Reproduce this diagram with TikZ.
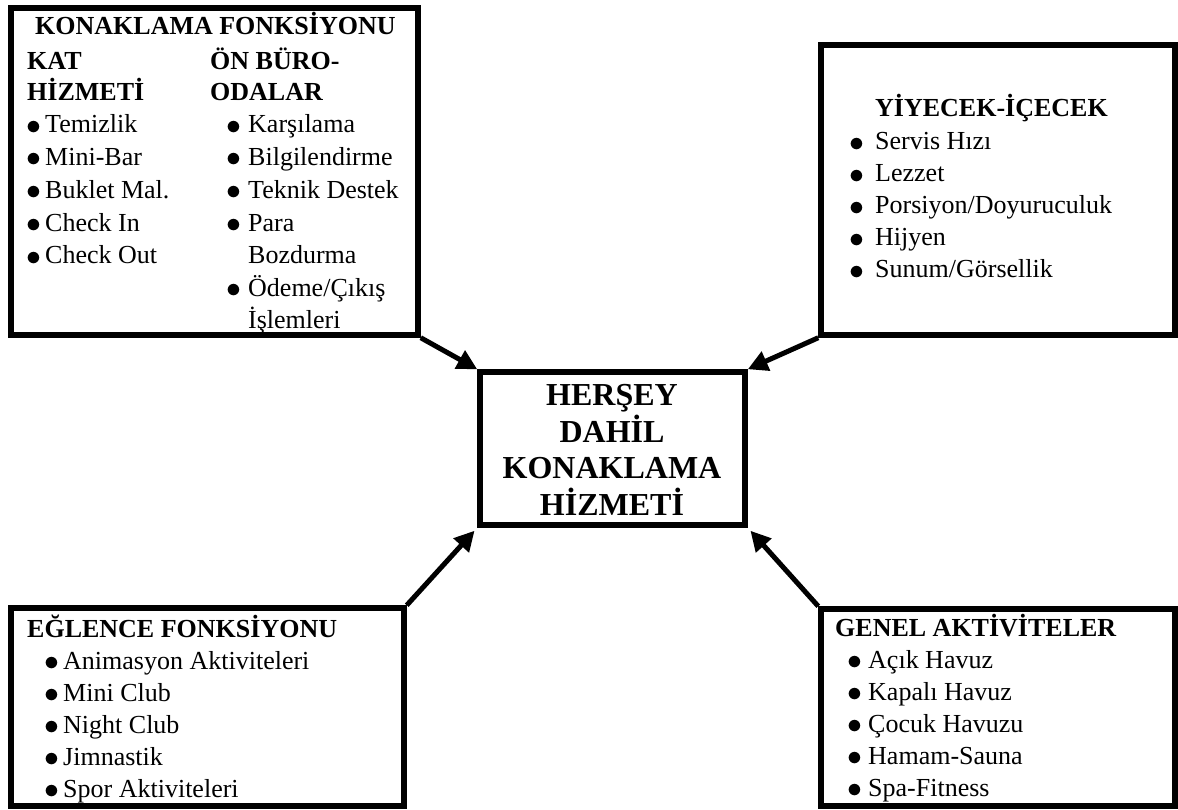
\documentclass[tikz,border=0pt]{standalone}
\usepackage{fontspec}
\setmainfont{Liberation Serif}
\usetikzlibrary{arrows.meta}
\newcommand{\bul}{\raisebox{-1.2pt}{\scalebox{1.2}{$\bullet$}}}
\begin{document}
\begin{tikzpicture}[x=1pt,y=-1pt,
  box/.style={draw=black,line width=5.5pt,rectangle,inner sep=0pt},
  txt/.style={inner sep=0pt,anchor=base west,font=\fontsize{26}{32}\selectfont},
  hd/.style={inner sep=0pt,anchor=base west,font=\fontsize{26}{32}\selectfont\bfseries},
  ctr/.style={inner sep=0pt,anchor=base,font=\fontsize{32}{37}\selectfont\bfseries},
  arr/.style={line width=5pt,-{Triangle[length=20pt,width=20pt]}}]
\useasboundingbox (0,0) rectangle (1178,810);
% boxes
\node[box,minimum width=407pt,minimum height=327pt] (tl) at (214.5,171.5) {};
\node[box,minimum width=354pt,minimum height=290pt] (tr) at (998,190) {};
\node[box,minimum width=265pt,minimum height=153pt] (c) at (612.5,448.5) {};
\node[box,minimum width=393pt,minimum height=198pt] (bl) at (207.5,707) {};
\node[box,minimum width=354pt,minimum height=197pt] (br) at (998,707.5) {};
% arrows
\draw[arr] (tl.south east) -- (c.north west);
\draw[arr] (tr.south west) -- (c.north east);
\draw[arr,shorten >=4pt] (bl.north east) -- (c.south west);
\draw[arr,shorten >=4pt] (br.north west) -- (c.south east);
% center text
\node[ctr] (c1) at (612,405) {HERŞEY};
\node[ctr] (c2) at (612,442) {DAHİL};
\node[ctr] (c3) at (612,478) {KONAKLAMA};
\node[ctr] (c4) at (612,515) {HİZMETİ};
% top-left box
\node[hd] (tlh) at (35,35) {KONAKLAMA FONKSİYONU};
\node[hd] (tlk1) at (27,70) {KAT};
\node[hd] (tlk2) at (27,101) {HİZMETİ};
\node[hd] (tlo1) at (210,70) {ÖN BÜRO-};
\node[hd] (tlo2) at (210,101) {ODALAR};
\foreach \t [count=\i] in {Temizlik,Mini-Bar,Buklet Mal.,Check In,Check Out}
  \node[txt] (tla\i) at (26,{133+32.75*(\i-1)}) {\makebox[19pt][l]{\bul}\t};
\foreach \t [count=\i] in {Karşılama,Bilgilendirme,Teknik Destek,Para}
  \node[txt] (tlb\i) at (226,{133+32.75*(\i-1)}) {\makebox[22pt][l]{\bul}\t};
\node[txt] (tlb5) at (248,264) {Bozdurma};
\node[txt] (tlb6) at (226,296.75) {\makebox[22pt][l]{\bul}Ödeme/Çıkış};
\node[txt] (tlb7) at (248,329) {İşlemleri};
% top-right box
\node[hd] (trh) at (875,117) {YİYECEK-İÇECEK};
\foreach \t [count=\i] in {Servis Hızı,Lezzet,Porsiyon/Doyuruculuk,Hijyen,Sunum/Görsellik}
  \node[txt] (tra\i) at (849,{150+32*(\i-1)}) {\makebox[26pt][l]{\bul}\t};
% bottom-left box
\node[hd] (blh) at (27,637) {EĞLENCE FONKSİYONU};
\foreach \t [count=\i] in {Animasyon Aktiviteleri,Mini Club,Night Club,Jimnastik,Spor Aktiviteleri}
  \node[txt] (bla\i) at (44,{669+32*(\i-1)}) {\makebox[19pt][l]{\bul}\t};
% bottom-right box
\node[hd] (brh) at (835,636) {GENEL AKTİVİTELER};
\foreach \t [count=\i] in {Açık Havuz,Kapalı Havuz,Çocuk Havuzu,Hamam-Sauna,Spa-Fitness}
  \node[txt] (bra\i) at (847,{668+32*(\i-1)}) {\makebox[21pt][l]{\bul}\t};
\end{tikzpicture}
\end{document}
